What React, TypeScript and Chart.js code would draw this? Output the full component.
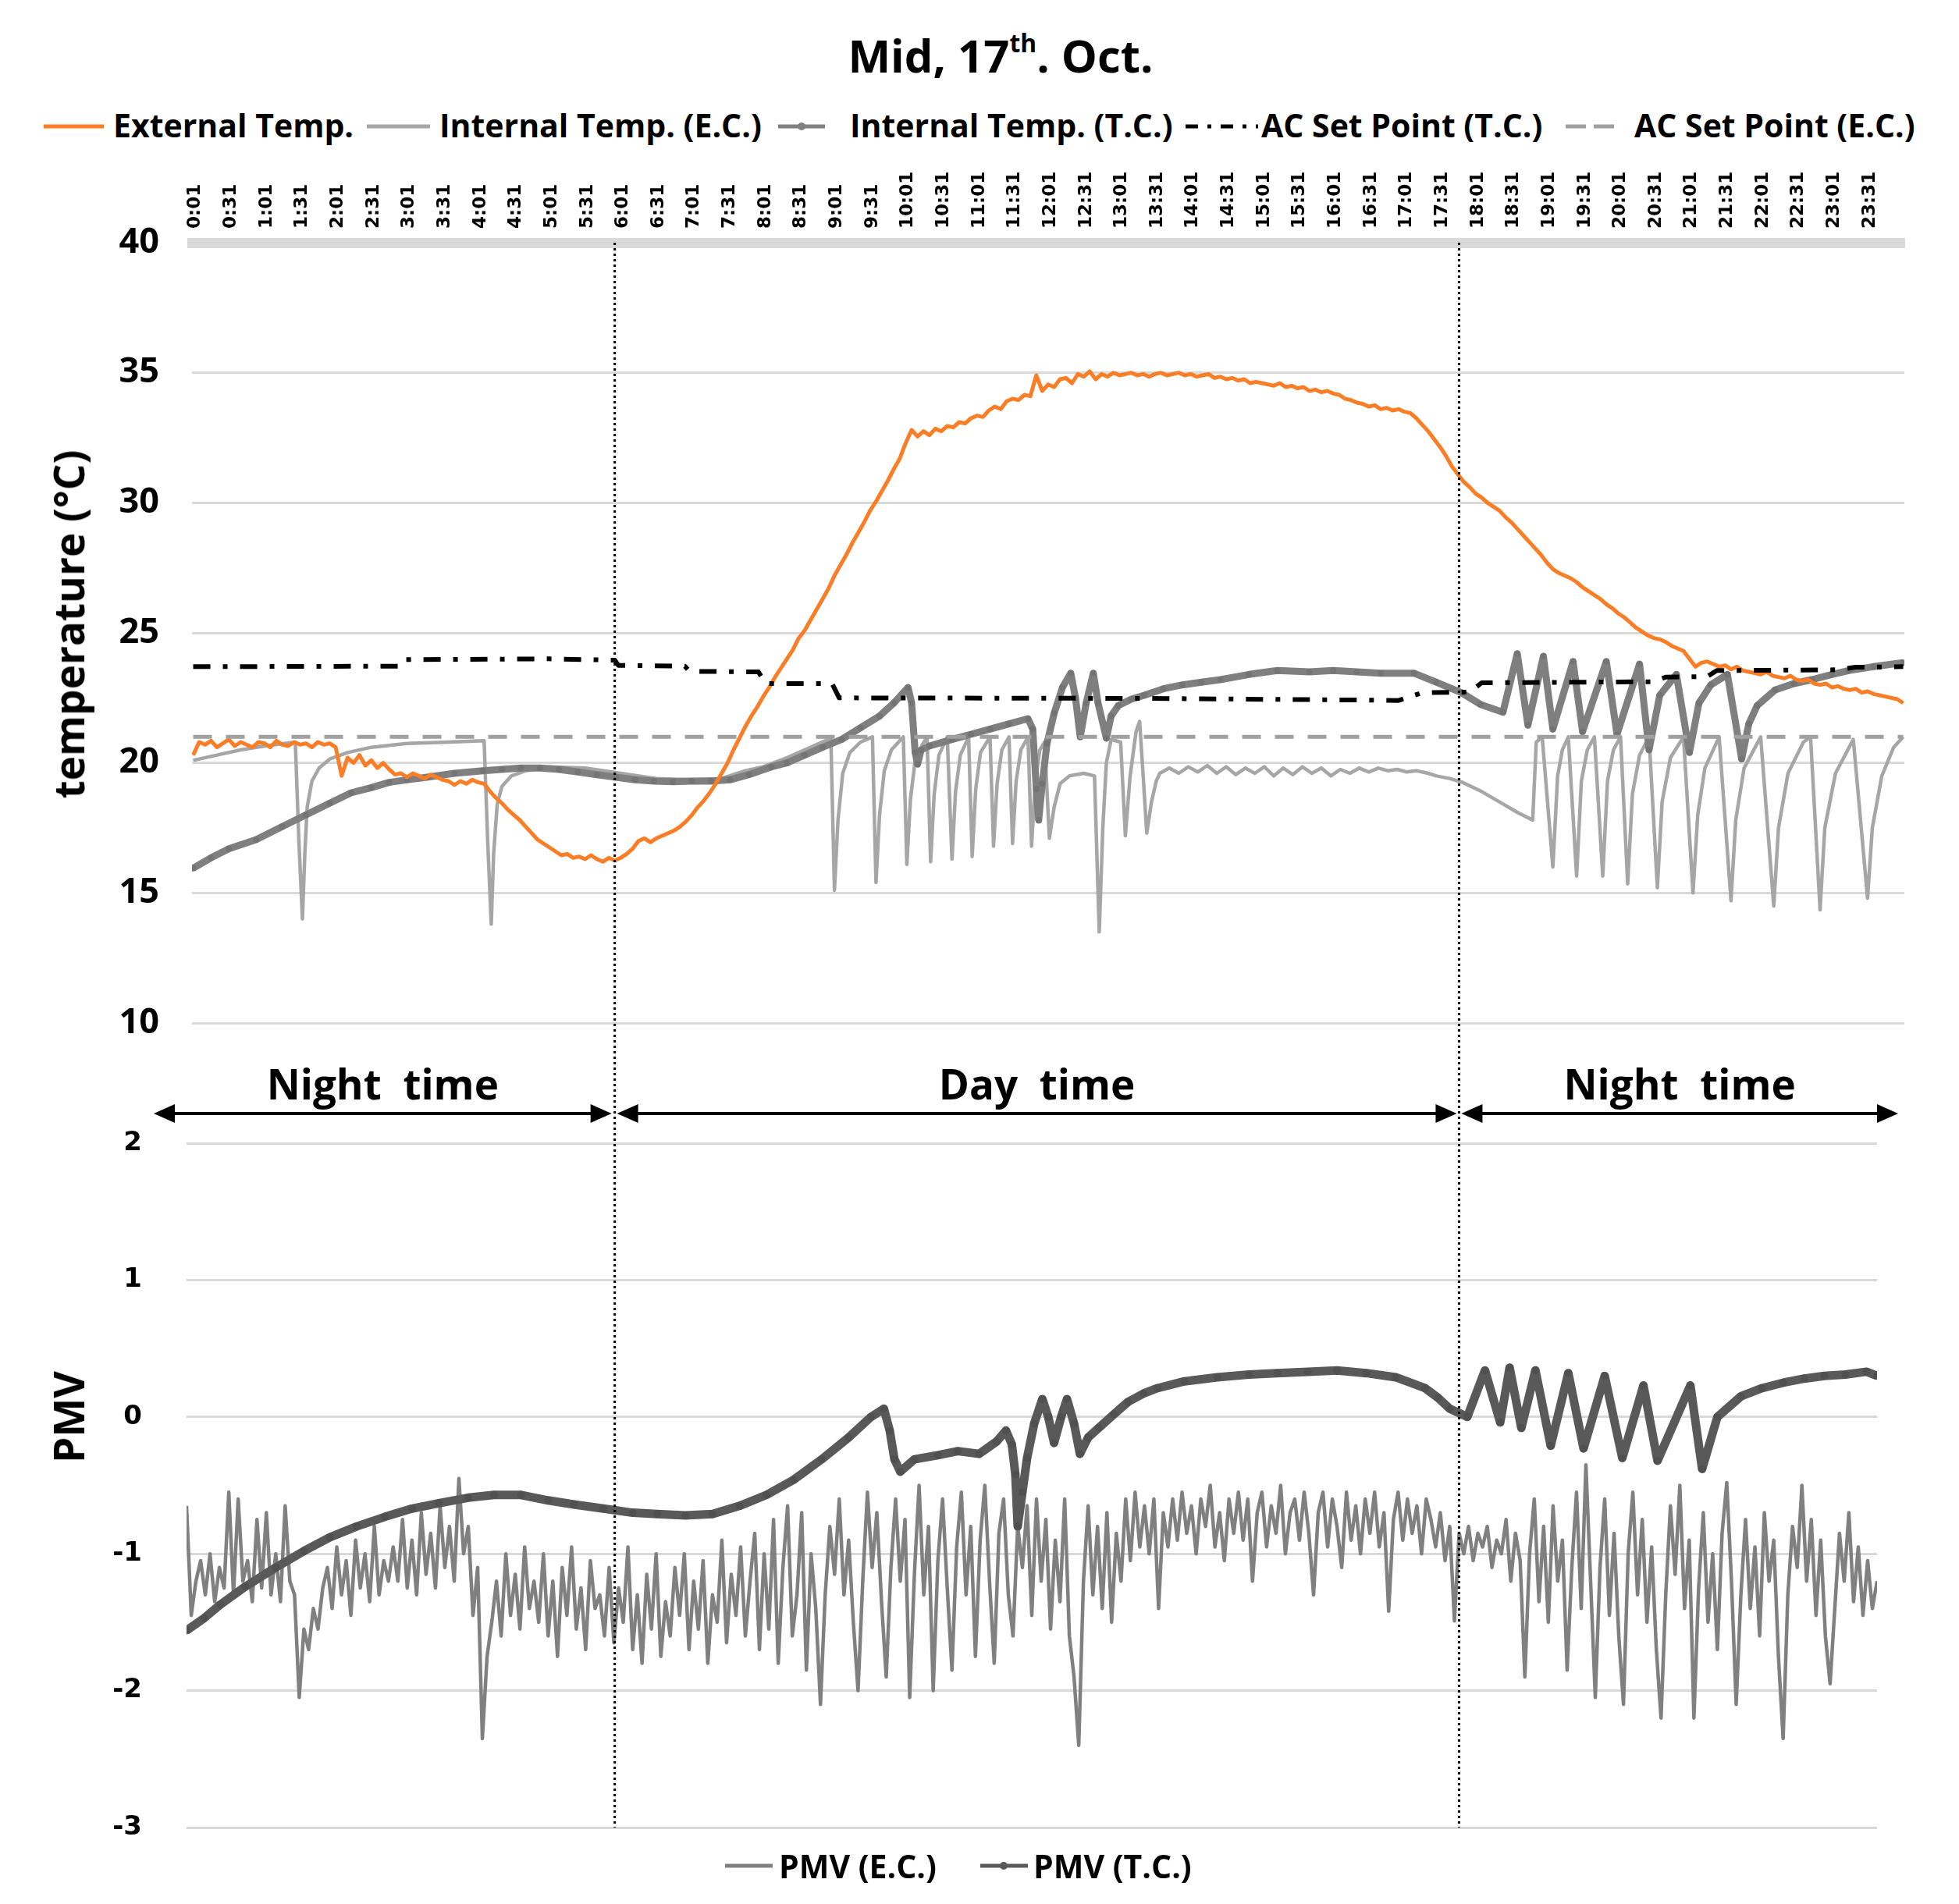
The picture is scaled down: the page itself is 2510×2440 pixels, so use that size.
import React, { useEffect, useRef, useState } from "react";
import { Chart, registerables } from "chart.js";

Chart.register(...registerables);

// ---------------- DATA ----------------
const TICK_LABELS = [
  "0:01","0:31","1:01","1:31","2:01","2:31","3:01","3:31","4:01","4:31","5:01","5:31",
  "6:01","6:31","7:01","7:31","8:01","8:31","9:01","9:31","10:01","10:31","11:01","11:31",
  "12:01","12:31","13:01","13:31","14:01","14:31","15:01","15:31","16:01","16:31","17:01","17:31",
  "18:01","18:31","19:01","19:31","20:01","20:31","21:01","21:31","22:01","22:31","23:01","23:31",
];
const DIVIDER_TIMES = ["5:55", "17:46"];
const PERIOD_LABELS = ["Night time", "Day time", "Night time"];

// External temperature, one reading every 5 minutes from 0:00
const EXT_STEP = 5;
const EXT_TEMP = [
  20.3, 20.8, 20.7, 20.85, 20.6, 20.75, 20.9, 20.65, 20.8, 20.7, 20.6, 20.8,
  20.75, 20.6, 20.85, 20.7, 20.65, 20.8, 20.7, 20.75, 20.6, 20.8, 20.7, 20.75,
  20.6, 19.5, 20.2, 20.0, 20.3, 19.9, 20.1, 19.8, 20.0, 19.75, 19.55, 19.6,
  19.45, 19.6, 19.5, 19.4, 19.55, 19.45, 19.35, 19.3, 19.15, 19.3, 19.2, 19.35,
  19.25, 19.2, 18.9, 18.65, 18.45, 18.2, 18.0, 17.8, 17.55, 17.3, 17.05, 16.9,
  16.75, 16.6, 16.45, 16.5, 16.35, 16.4, 16.3, 16.45, 16.3, 16.2, 16.35, 16.25,
  16.35, 16.5, 16.7, 17.0, 17.1, 16.95, 17.1, 17.2, 17.3, 17.4, 17.55, 17.75,
  18.0, 18.3, 18.55, 18.85, 19.2, 19.6, 20.0, 20.5, 20.95, 21.4, 21.8, 22.15,
  22.55, 22.9, 23.3, 23.65, 24.0, 24.35, 24.8, 25.1, 25.5, 25.9, 26.3, 26.7,
  27.2, 27.6, 28.0, 28.45, 28.85, 29.25, 29.7, 30.05, 30.45, 30.85, 31.3, 31.7,
  32.3, 32.8, 32.55, 32.75, 32.6, 32.85, 32.75, 32.95, 32.9, 33.1, 33.05, 33.25,
  33.35, 33.3, 33.55, 33.7, 33.6, 33.9, 34.0, 33.95, 34.15, 34.1, 34.9, 34.3,
  34.55, 34.45, 34.75, 34.8, 34.6, 34.95, 34.85, 35.05, 34.75, 34.95, 34.85, 35.0,
  34.9, 34.95, 35.0, 34.9, 34.95, 34.85, 34.95, 35.0, 34.9, 34.95, 35.0, 34.9,
  34.95, 34.85, 34.9, 34.95, 34.8, 34.85, 34.75, 34.8, 34.7, 34.75, 34.6, 34.65,
  34.6, 34.55, 34.5, 34.6, 34.45, 34.5, 34.4, 34.45, 34.3, 34.35, 34.25, 34.3,
  34.2, 34.15, 34.0, 33.95, 33.85, 33.8, 33.7, 33.75, 33.6, 33.65, 33.55, 33.6,
  33.5, 33.45, 33.25, 33.0, 32.75, 32.45, 32.15, 31.8, 31.4, 31.1, 30.8, 30.6,
  30.35, 30.2, 30.0, 29.85, 29.7, 29.45, 29.25, 29.0, 28.75, 28.5, 28.25, 28.0,
  27.7, 27.45, 27.3, 27.2, 27.1, 26.95, 26.75, 26.6, 26.45, 26.3, 26.1, 25.95,
  25.75, 25.6, 25.4, 25.2, 25.05, 24.9, 24.8, 24.75, 24.65, 24.5, 24.4, 24.3,
  24.0, 23.7, 23.85, 23.9, 23.8, 23.7, 23.75, 23.6, 23.7, 23.55, 23.5, 23.45,
  23.4, 23.5, 23.35, 23.3, 23.25, 23.35, 23.2, 23.15, 23.2, 23.05, 23.0, 23.05,
  22.9, 22.95, 22.85, 22.8, 22.85, 22.7, 22.75, 22.65, 22.6, 22.55, 22.5, 22.45,
  22.3,
];

// [minute, °C] readings
const INT_TEMP_EC: [number, number][] = [
  [0,20.1],[20,20.3],[40,20.5],[60,20.65],[86,20.8],[89,17.0],[92,14.0],[94,16.5],[96,18.3],[100,19.3],
  [106,19.8],[115,20.15],[130,20.4],[150,20.6],[180,20.75],[215,20.8],[245,20.85],[248,17.0],[251,13.8],
  [253,16.5],[256,18.4],[260,19.1],[268,19.5],[280,19.7],[300,19.85],[330,19.8],[360,19.6],[390,19.4],
  [420,19.35],[445,19.4],[465,19.7],[480,19.85],[500,20.2],[520,20.6],[537,20.95],
  [540,15.1],[543,17.8],[547,19.6],[553,20.4],[562,20.8],[572,21.0],
  [575,15.4],[578,18.0],[582,19.7],[588,20.5],[598,21.0],
  [601,16.1],[604,18.6],[608,20.1],[614,20.7],[618,21.0],
  [621,16.2],[624,18.8],[628,20.3],[635,21.0],
  [639,16.3],[642,18.9],[646,20.3],[653,21.0],
  [656,16.4],[659,19.0],[663,20.4],[671,21.0],
  [674,16.8],[677,19.2],[681,20.5],[687,21.0],
  [690,16.9],[693,19.3],[697,20.5],[703,21.0],
  [706,16.8],[709,19.2],[713,20.5],[717,20.8],
  [721,17.1],[725,18.3],[730,19.2],[738,19.5],[750,19.6],[759,19.5],
  [763,13.5],[766,17.5],[769,20.0],[773,20.9],[781,20.8],
  [785,17.2],[789,19.5],[794,21.2],[797,21.6],[800,19.5],
  [803,17.3],[807,18.5],[811,19.3],[814,19.6],[822,19.8],[830,19.6],[838,19.85],[846,19.65],[854,19.9],
  [862,19.6],[870,19.85],[878,19.55],[886,19.8],[894,19.6],[902,19.85],[910,19.5],[918,19.8],[926,19.55],
  [934,19.85],[942,19.6],[950,19.8],[958,19.5],[966,19.75],[974,19.6],[982,19.8],[990,19.65],[998,19.8],
  [1006,19.7],[1014,19.75],[1022,19.65],[1030,19.7],[1040,19.6],[1047,19.5],[1058,19.4],[1069,19.25],
  [1085,18.9],[1100,18.5],[1115,18.1],[1128,17.8],
  [1131,20.8],[1136,21.0],[1145,16.0],[1149,19.5],[1153,20.5],[1158,21.0],[1165,15.65],[1169,19.3],
  [1174,20.5],[1180,21.0],[1187,15.65],[1191,19.3],[1196,20.5],[1202,21.0],[1208,15.35],[1212,18.8],
  [1218,20.3],[1226,21.0],[1233,15.2],[1237,18.5],[1244,20.2],[1255,21.0],[1263,15.0],[1267,18.0],
  [1273,19.8],[1285,21.0],[1295,14.7],[1299,17.8],[1306,19.8],[1320,21.0],[1331,14.5],[1335,17.5],
  [1343,19.6],[1356,20.8],[1362,21.0],[1370,14.35],[1374,17.5],[1383,19.6],[1398,20.9],[1410,14.8],
  [1414,17.5],[1422,19.5],[1432,20.6],[1440,21.0],
];

const INT_TEMP_TC: [number, number][] = [
  [0,15.95],[15,16.35],[30,16.7],[53,17.05],[75,17.55],[95,18.0],[115,18.45],[133,18.85],[150,19.05],
  [165,19.25],[180,19.35],[197,19.45],[220,19.6],[244,19.7],[260,19.75],[276,19.8],[292,19.8],[308,19.75],
  [324,19.65],[340,19.55],[356,19.45],[372,19.35],[388,19.3],[404,19.28],[420,19.3],[436,19.3],[452,19.35],
  [468,19.55],[487,19.85],[500,20.0],[515,20.3],[530,20.6],[546,20.9],[562,21.35],[578,21.8],[590,22.3],
  [602,22.9],[605,22.3],[608,20.4],[610,19.95],[613,20.5],[620,20.65],[639,20.9],[655,21.1],[671,21.3],
  [687,21.5],[703,21.7],[707,21.3],[710,19.0],[712,17.8],[715,19.2],[719,20.75],[725,21.9],[732,22.9],
  [739,23.45],[743,22.5],[747,21.0],[752,22.3],[758,23.45],[762,22.3],[769,20.95],[773,21.8],[779,22.2],
  [790,22.45],[801,22.6],[817,22.85],[833,23.0],[849,23.1],[865,23.2],[889,23.4],[913,23.55],[940,23.5],
  [960,23.55],[980,23.5],[1000,23.45],[1028,23.45],[1047,23.1],[1068,22.7],[1084,22.25],[1103,21.95],
  [1115,24.2],[1124,21.45],[1137,24.1],[1145,21.3],[1162,23.9],[1170,21.2],[1190,23.9],[1199,21.1],
  [1218,23.8],[1226,20.5],[1235,22.6],[1249,23.4],[1260,20.4],[1268,22.3],[1278,23.0],[1292,23.4],
  [1304,20.15],[1310,21.5],[1317,22.2],[1332,22.8],[1348,23.05],[1363,23.2],[1380,23.4],[1394,23.55],
  [1415,23.7],[1440,23.85],
];

const AC_SET_TC: [number, number][] = [
  [0,23.7],[175,23.72],[178,23.97],[300,24.0],[355,23.95],[358,23.75],[414,23.72],[418,23.52],[476,23.5],
  [482,23.05],[538,23.05],[544,22.5],[800,22.48],[975,22.42],[1015,22.4],[1035,22.7],[1075,22.72],
  [1085,23.08],[1230,23.12],[1240,23.3],[1275,23.32],[1283,23.55],[1385,23.58],[1400,23.68],[1440,23.7],
];

const AC_SET_EC: [number, number][] = [[0, 21], [1440, 21]];

// PMV (E.C.), one reading every 4 minutes from 0:00
const PMV_EC_STEP = 4;
const PMV_EC = [
  -0.65, -1.45, -1.2, -1.05, -1.3, -1.0, -1.35, -1.1, -1.25, -0.55, -1.3, -0.6, -1.2, -1.05, -1.35,
  -0.75, -1.25, -0.7, -1.3, -1.0, -1.35, -0.65, -1.2, -1.3, -2.05, -1.55, -1.7, -1.4, -1.55, -1.25,
  -1.1, -1.4, -0.95, -1.3, -1.05, -1.45, -0.9, -1.25, -1.0, -1.35, -0.8, -1.3, -1.05, -1.2, -0.95,
  -1.2, -0.75, -1.25, -0.9, -1.3, -0.7, -1.15, -0.85, -1.25, -0.65, -1.1, -0.8, -1.2, -0.45, -1.0,
  -0.8, -1.45, -1.1, -2.35, -1.75, -1.5, -1.2, -1.6, -1.0, -1.45, -1.15, -1.55, -0.95, -1.4, -1.2,
  -1.5, -1.0, -1.6, -1.2, -1.75, -1.1, -1.45, -0.95, -1.55, -1.25, -1.7, -1.05, -1.4, -1.3, -1.6,
  -1.1, -1.65, -1.25, -1.5, -0.95, -1.7, -1.3, -1.8, -1.15, -1.55, -1.0, -1.75, -1.35, -1.6, -1.1,
  -1.45, -1.0, -1.7, -1.2, -1.55, -1.05, -1.8, -1.3, -1.5, -0.9, -1.65, -1.15, -1.45, -0.95, -1.6,
  -1.2, -0.85, -1.7, -1.0, -1.55, -0.75, -1.8, -1.1, -0.65, -1.6, -1.3, -0.7, -1.85, -1.0, -1.4,
  -2.1, -1.3, -0.8, -1.15, -0.6, -1.3, -0.9, -1.5, -2.0, -1.2, -0.55, -1.1, -0.7, -1.35, -1.9,
  -1.1, -0.6, -1.2, -0.75, -2.05, -1.15, -0.5, -1.3, -0.8, -2.0, -1.05, -0.6, -1.25, -1.85, -0.95,
  -0.55, -1.3, -0.8, -1.75, -0.9, -0.5, -1.2, -1.8, -0.85, -0.6, -1.3, -1.6, -0.8, -1.1, -0.65,
  -1.45, -0.6, -1.2, -0.75, -1.55, -0.9, -1.35, -0.6, -1.6, -1.9, -2.4, -1.2, -0.65, -1.3, -0.8,
  -1.4, -0.7, -1.5, -0.85, -1.2, -0.6, -1.05, -0.55, -0.95, -0.65, -1.0, -0.6, -1.4, -0.7, -0.95,
  -0.6, -0.9, -0.55, -0.85, -0.65, -1.0, -0.6, -0.8, -0.5, -0.95, -0.7, -1.05, -0.6, -0.85, -0.55,
  -0.9, -0.6, -1.2, -0.7, -0.55, -0.95, -0.65, -0.85, -0.5, -1.0, -0.7, -0.6, -0.9, -0.55, -0.85,
  -1.3, -0.7, -0.55, -0.95, -0.6, -0.8, -1.1, -0.55, -0.9, -0.65, -1.0, -0.6, -0.85, -0.55, -0.95,
  -0.7, -1.42, -0.75, -0.55, -0.9, -0.6, -0.85, -0.65, -1.0, -0.6, -0.75, -0.95, -0.7, -1.05, -0.8,
  -1.49, -0.85, -1.0, -0.8, -1.05, -0.85, -0.95, -0.8, -1.1, -0.9, -1.0, -0.75, -1.2, -0.85, -1.05,
  -1.9, -1.0, -0.6, -1.35, -0.8, -1.5, -0.65, -1.2, -0.9, -1.85, -1.1, -0.55, -1.4, -0.35, -1.2,
  -2.05, -1.1, -0.6, -1.45, -0.85, -1.6, -2.1, -1.0, -0.55, -1.3, -0.75, -1.5, -0.95, -1.7, -2.2,
  -1.3, -0.65, -1.15, -0.5, -1.4, -0.9, -2.2, -1.25, -0.7, -1.5, -1.0, -1.7, -0.85, -0.48, -1.2,
  -2.1, -1.3, -0.75, -1.4, -0.95, -1.6, -0.7, -1.2, -0.9, -1.75, -2.35, -1.3, -0.8, -1.1, -0.5,
  -1.2, -0.75, -1.45, -0.9, -1.6, -1.95, -1.4, -0.85, -1.2, -0.7, -1.35, -0.95, -1.45, -1.05, -1.4,
  -1.2,
];

const PMV_TC: [number, number][] = [
  [0,-1.56],[15,-1.47],[29,-1.37],[50,-1.24],[76,-1.1],[100,-0.98],[122,-0.88],[145,-0.8],[169,-0.73],
  [192,-0.67],[215,-0.63],[240,-0.59],[262,-0.57],[285,-0.57],[308,-0.61],[330,-0.64],[355,-0.67],
  [380,-0.7],[401,-0.71],[425,-0.72],[448,-0.71],[471,-0.65],[494,-0.57],[517,-0.46],[541,-0.31],
  [564,-0.15],[583,0.0],[594,0.06],[599,-0.1],[603,-0.31],[608,-0.4],[620,-0.31],[640,-0.28],[657,-0.25],
  [675,-0.27],[690,-0.18],[698,-0.1],[703,-0.2],[706,-0.42],[708,-0.8],[712,-0.55],[716,-0.3],[722,-0.05],
  [729,0.13],[734,0.0],[739,-0.19],[745,0.0],[750,0.13],[756,-0.05],[761,-0.27],[768,-0.15],[777,-0.08],
  [790,0.02],[802,0.11],[815,0.17],[827,0.21],[850,0.26],[878,0.29],[905,0.31],[929,0.32],[955,0.33],
  [980,0.34],[1005,0.32],[1030,0.29],[1055,0.21],[1066,0.14],[1076,0.06],[1091,0.0],[1106,0.34],
  [1119,-0.04],[1127,0.36],[1137,-0.08],[1149,0.34],[1162,-0.21],[1177,0.32],[1190,-0.23],[1208,0.3],
  [1223,-0.3],[1241,0.23],[1253,-0.32],[1281,0.23],[1291,-0.38],[1304,0.0],[1324,0.15],[1342,0.21],
  [1360,0.25],[1378,0.28],[1395,0.3],[1413,0.31],[1431,0.33],[1440,0.3],
];

// ---------------- HELPERS ----------------
const toMin = (s: string) => {
  const [h, m] = s.split(":").map(Number);
  return h * 60 + m;
};
const TICK_MIN = TICK_LABELS.map(toMin);
const DIVIDER_MIN = DIVIDER_TIMES.map(toMin);
const fromPairs = (p: [number, number][]) => p.map(([x, y]) => ({ x, y }));
const fromSteps = (v: number[], step: number) => v.map((y, i) => ({ x: i * step, y }));

const C_ORANGE = "#fb7d25";
const C_EC = "#a6a6a6";
const C_TC = "#7f7f7f";
const C_SET_EC = "#a0a0a0";
const C_PMV_EC = "#808080";
const C_PMV_TC = "#595959";
const GRID = "#d9d9d9";
const SANS = '"Open Sans", "Noto Sans", sans-serif';

const TOP_Y = 200;
const TOP_H = 1140;
const BOT_Y = 1440;
const BOT_H = 960;

const fontsReady = Promise.all([
  document.fonts.load('bold 23px "DejaVu Sans"'),
  document.fonts.load('bold 42px "Open Sans"'),
]).catch(() => undefined);

const lineDs = (label: string, data: any[], color: string, width: number, extra: any = {}) => ({
  label,
  data,
  borderColor: color,
  backgroundColor: color,
  borderWidth: width,
  pointRadius: 0,
  borderJoinStyle: "round",
  borderCapStyle: "butt",
  tension: 0,
  fill: false,
  ...extra,
});

export default function App() {
  const topRef = useRef<HTMLCanvasElement | null>(null);
  const botRef = useRef<HTMLCanvasElement | null>(null);
  const [geo, setGeo] = useState({ d1: 789, d2: 1871, top: 311, bottom: 2342 });

  useEffect(() => {
    let cancelled = false;
    let topChart: Chart | null = null;
    let botChart: Chart | null = null;
    fontsReady.then(() => {
      if (cancelled || !topRef.current || !botRef.current) return;
      topChart = new Chart(topRef.current, {
        type: "line",
        data: {
          datasets: [
            lineDs("External Temp.", fromSteps(EXT_TEMP, EXT_STEP), C_ORANGE, 5, { order: 2 }),
            lineDs("Internal Temp. (E.C.)", fromPairs(INT_TEMP_EC), C_EC, 4.5, { order: 4 }),
            lineDs("Internal Temp. (T.C.)", fromPairs(INT_TEMP_TC), C_TC, 9, {
              order: 3, pointRadius: 4, pointBorderWidth: 0, pointBackgroundColor: "#747474",
            }),
            lineDs("AC Set Point (T.C.)", fromPairs(AC_SET_TC), "#000000", 6, {
              order: 1, borderDash: [22, 16, 6, 16], borderCapStyle: "butt",
            }),
            lineDs("AC Set Point (E.C.)", fromPairs(AC_SET_EC), C_SET_EC, 5, {
              order: 0, borderDash: [24, 18],
            }),
          ] as any,
        },
        options: {
          animation: false,
          responsive: false,
          maintainAspectRatio: false,
          devicePixelRatio: 1,
          events: [],
          layout: { padding: { left: 0, right: 70, top: 0, bottom: 29 } },
          plugins: { legend: { display: false }, tooltip: { enabled: false }, title: { display: false } },
          scales: {
            x: {
              type: "linear",
              position: "top",
              min: -1,
              max: 1441,
              afterBuildTicks: (s: any) => {
                s.ticks = TICK_MIN.map((v) => ({ value: v }));
              },
              afterFit: (s: any) => {
                s.height = 111;
              },
              ticks: {
                autoSkip: false,
                minRotation: 90,
                maxRotation: 90,
                padding: 18,
                labelOffset: 29,
                color: "#000",
                font: { family: '"DejaVu Sans"', weight: "bold", size: 23 },
                callback: (_v: any, i: number) => TICK_LABELS[i],
              },
              grid: { display: false, drawTicks: false },
              border: { display: true, color: GRID, width: 13 },
            },
            y: {
              min: 10,
              max: 40,
              afterFit: (s: any) => {
                s.width = 246;
              },
              ticks: {
                stepSize: 5,
                padding: 2,
                color: "#000",
                font: { family: SANS, weight: "bold", size: 45 },
              },
              grid: {
                color: GRID,
                lineWidth: 3,
                drawTicks: true,
                tickLength: 40,
                tickColor: "rgba(0,0,0,0)",
              },
              border: { display: false },
            },
          },
        } as any,
      });

      botChart = new Chart(botRef.current, {
        type: "line",
        data: {
          datasets: [
            lineDs("PMV (E.C.)", fromSteps(PMV_EC, PMV_EC_STEP), C_PMV_EC, 4.5, { order: 1 }),
            lineDs("PMV (T.C.)", fromPairs(PMV_TC), C_PMV_TC, 11, {
              order: 0, pointRadius: 5, pointBorderWidth: 0, pointBackgroundColor: "#505050",
            }),
          ] as any,
        },
        options: {
          animation: false,
          responsive: false,
          maintainAspectRatio: false,
          devicePixelRatio: 1,
          events: [],
          layout: { padding: { left: 0, right: 105, top: 25, bottom: 58 } },
          plugins: { legend: { display: false }, tooltip: { enabled: false }, title: { display: false } },
          scales: {
            x: { type: "linear", display: false, min: 0, max: 1440 },
            y: {
              min: -3,
              max: 2,
              afterFit: (s: any) => {
                s.width = 239;
              },
              ticks: {
                stepSize: 1,
                padding: 2,
                color: "#000",
                font: { family: '"DejaVu Sans"', weight: "bold", size: 34 },
              },
              grid: {
                color: GRID,
                lineWidth: 3,
                drawTicks: true,
                tickLength: 55,
                tickColor: "rgba(0,0,0,0)",
              },
              border: { display: false },
            },
          },
        } as any,
      });

      const xs = topChart.scales.x;
      setGeo({
        d1: xs.getPixelForValue(DIVIDER_MIN[0]),
        d2: xs.getPixelForValue(DIVIDER_MIN[1]),
        top: TOP_Y + topChart.chartArea.top,
        bottom: BOT_Y + botChart.chartArea.bottom,
      });
    });
    return () => {
      cancelled = true;
      if (topChart) topChart.destroy();
      if (botChart) botChart.destroy();
    };
  }, []);

  const arrowY = 1427;
  const leftEnd = 197;
  const rightEnd = 2432;
  const segs: [number, number][] = [
    [leftEnd, geo.d1 - 4],
    [geo.d1 + 3, geo.d2 - 3],
    [geo.d2 + 3, rightEnd],
  ];
  const head = (tip: number, dir: number) =>
    `${tip},${arrowY} ${tip + dir * 27},${arrowY - 12} ${tip + dir * 27},${arrowY + 12}`;

  const text = (content: React.ReactNode, left: number, top: number, size: number, extra: any = {}) => (
    <div
      style={{
        position: "absolute",
        left,
        top,
        fontFamily: SANS,
        fontWeight: 700,
        fontSize: size,
        lineHeight: `${Math.round(size * 1.2)}px`,
        whiteSpace: "nowrap",
        color: "#000",
        ...extra,
      }}
    >
      {content}
    </div>
  );

  const legendTop = [
    { label: "External Temp.", tx: 145 },
    { label: "Internal Temp. (E.C.)", tx: 563 },
    { label: "Internal Temp. (T.C.)", tx: 1089 },
    { label: "AC Set Point (T.C.)", tx: 1616 },
    { label: "AC Set Point (E.C.)", tx: 2094 },
  ];
  const legendY = 162;
  const botLegendY = 2391;

  return (
    <div
      style={{
        position: "absolute",
        left: 0,
        top: 0,
        width: 2510,
        height: 2440,
        background: "#fff",
        overflow: "hidden",
      }}
    >
      <canvas
        ref={topRef}
        width={2510}
        height={TOP_H}
        style={{ position: "absolute", left: 0, top: TOP_Y, width: 2510, height: TOP_H }}
      />
      <canvas
        ref={botRef}
        width={2510}
        height={BOT_H}
        style={{ position: "absolute", left: 0, top: BOT_Y, width: 2510, height: BOT_H }}
      />

      {/* title */}
      <div
        style={{
          position: "absolute",
          left: 782,
          width: 1000,
          top: 36,
          textAlign: "center",
          fontFamily: SANS,
          fontWeight: 700,
          fontSize: 58,
          lineHeight: "70px",
          whiteSpace: "nowrap",
        }}
      >
        Mid, 17<span style={{ fontSize: "0.55em", position: "relative", top: "-0.8em" }}>th</span>. Oct.
      </div>

      {/* top legend texts */}
      {legendTop.map((l) => (
        <React.Fragment key={l.label}>{text(l.label, l.tx, 135, 41, { lineHeight: "50px" })}</React.Fragment>
      ))}

      {/* axis titles */}
      <div
        style={{
          position: "absolute",
          left: 88,
          top: 800,
          transform: "translate(-50%, -50%) rotate(-90deg)",
          fontFamily: SANS,
          fontWeight: 700,
          fontSize: 53,
          lineHeight: "64px",
          whiteSpace: "nowrap",
        }}
      >
        temperature (°C)
      </div>
      <div
        style={{
          position: "absolute",
          left: 88,
          top: 1816,
          transform: "translate(-50%, -50%) rotate(-90deg)",
          fontFamily: SANS,
          fontWeight: 700,
          fontSize: 53,
          lineHeight: "64px",
          whiteSpace: "nowrap",
        }}
      >
        PMV
      </div>

      {/* period labels */}
      {segs.map(([a, b], i) => (
        <div
          key={"p" + i}
          style={{
            position: "absolute",
            left: (a + b) / 2 - 300,
            width: 600,
            top: 1359,
            textAlign: "center",
            fontFamily: SANS,
            fontWeight: 700,
            fontSize: 53,
            lineHeight: "60px",
            wordSpacing: 14,
            whiteSpace: "nowrap",
          }}
        >
          {PERIOD_LABELS[i]}
        </div>
      ))}

      {/* bottom legend texts */}
      {text("PMV (E.C.)", 998, 2366, 41, { lineHeight: "50px" })}
      {text("PMV (T.C.)", 1324, 2366, 41, { lineHeight: "50px" })}

      <svg
        width={2510}
        height={2440}
        style={{ position: "absolute", left: 0, top: 0, pointerEvents: "none" }}
      >
        {/* dividers */}
        {[geo.d1, geo.d2].map((x, i) => (
          <line
            key={"d" + i}
            x1={x}
            x2={x}
            y1={geo.top}
            y2={geo.bottom}
            stroke="#000"
            strokeWidth={3}
            strokeDasharray="3 4"
          />
        ))}
        {/* arrows */}
        {segs.map(([a, b], i) => (
          <g key={"a" + i}>
            <line x1={a + 10} x2={b - 10} y1={arrowY} y2={arrowY} stroke="#000" strokeWidth={4} />
            <polygon points={head(a, 1)} fill="#000" />
            <polygon points={head(b, -1)} fill="#000" />
          </g>
        ))}
        {/* top legend samples */}
        <line x1={56} x2={133} y1={legendY} y2={legendY} stroke={C_ORANGE} strokeWidth={5} />
        <line x1={470} x2={551} y1={legendY} y2={legendY} stroke={C_EC} strokeWidth={5} />
        <line x1={997} x2={1057} y1={legendY} y2={legendY} stroke={C_TC} strokeWidth={5} />
        <circle cx={1027} cy={legendY} r={5} fill={C_TC} />
        <line
          x1={1519}
          x2={1612}
          y1={legendY}
          y2={legendY}
          stroke="#000"
          strokeWidth={5}
          strokeDasharray="16 12 5 12"
        />
        <line
          x1={2006}
          x2={2070}
          y1={legendY}
          y2={legendY}
          stroke={C_SET_EC}
          strokeWidth={5}
          strokeDasharray="26 10"
        />
        {/* bottom legend samples */}
        <line x1={929} x2={990} y1={botLegendY} y2={botLegendY} stroke={C_PMV_EC} strokeWidth={5} />
        <line x1={1256} x2={1317} y1={botLegendY} y2={botLegendY} stroke={C_PMV_TC} strokeWidth={5} />
        <circle cx={1286} cy={botLegendY} r={5} fill={C_PMV_TC} />
      </svg>
    </div>
  );
}
